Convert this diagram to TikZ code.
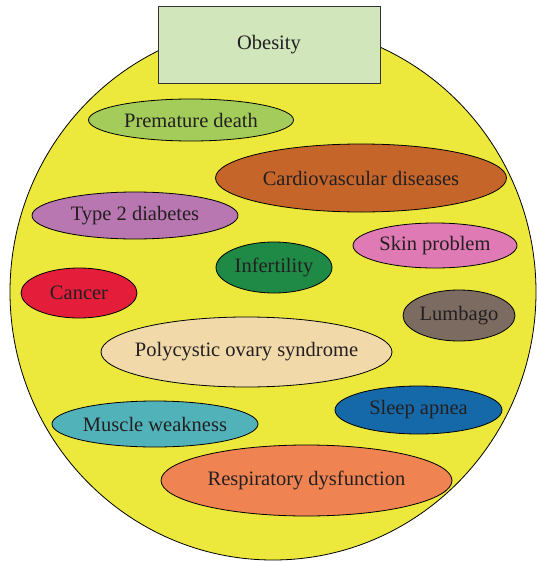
\documentclass[tikz,border=0pt]{standalone}
\usepackage{fontspec}
\setmainfont{Liberation Serif}
\usetikzlibrary{shapes.geometric}
\definecolor{bigyellow}{HTML}{ECE83C}
\definecolor{boxgreen}{HTML}{D1E6BB}
\definecolor{cPremature}{HTML}{A3CC5A}
\definecolor{cCardio}{HTML}{C5652A}
\definecolor{cDiab}{HTML}{B877B1}
\definecolor{cSkin}{HTML}{E07AB5}
\definecolor{cInfert}{HTML}{1E8A46}
\definecolor{cCancer}{HTML}{E41E3A}
\definecolor{cLumbago}{HTML}{7B6B61}
\definecolor{cPoly}{HTML}{F1D9AA}
\definecolor{cMuscle}{HTML}{52B2BA}
\definecolor{cSleep}{HTML}{1569A8}
\definecolor{cResp}{HTML}{EF8352}
\definecolor{txt}{HTML}{231F20}
\newcommand{\lbl}[1]{\makebox[0pt]{#1}}
\tikzset{
  disease/.style={ellipse, draw=black, line width=0.8pt, inner sep=0pt, text=txt,
    font=\fontsize{20.5}{24}\selectfont},
}
\begin{document}
\begin{tikzpicture}[x=1pt,y=-1pt]
\useasboundingbox (0,0) rectangle (536,562);
% big circle
\path[fill=bigyellow, draw=black, line width=0.8pt] (273,292) ellipse [x radius=263, y radius=268];
% title box
\node[draw=black!80, line width=1pt, fill=boxgreen, minimum width=222pt, minimum height=77pt,
  inner sep=0pt, text=txt, font=\fontsize{20.5}{24}\selectfont] (obesity) at (269,44.5) {Obesity};
% diseases
\node[disease, fill=cPremature, minimum width=205pt, minimum height=42pt] (premature) at (191,120) {\lbl{Premature death}};
\node[disease, fill=cCardio, minimum width=291pt, minimum height=68pt] (cardio) at (361,178) {\lbl{Cardiovascular diseases}};
\node[disease, fill=cDiab, minimum width=206pt, minimum height=47pt] (diab) at (135,215.5) {\lbl{Type 2 diabetes}};
\node[disease, fill=cSkin, minimum width=164pt, minimum height=45pt] (skin) at (435,245.5) {\lbl{Skin problem}};
\node[disease, fill=cInfert, minimum width=116pt, minimum height=51pt] (infert) at (274,267.5) {\lbl{Infertility}};
\node[disease, fill=cCancer, minimum width=116pt, minimum height=50pt] (cancer) at (79,293) {\lbl{Cancer}};
\node[disease, fill=cLumbago, minimum width=112pt, minimum height=51pt] (lumbago) at (459,315.5) {\lbl{Lumbago}};
\node[disease, fill=cPoly, minimum width=291pt, minimum height=70pt] (poly) at (246.5,352) {\lbl{Polycystic ovary syndrome}};
\node[disease, fill=cMuscle, minimum width=206pt, minimum height=46pt] (muscle) at (155,424) {\lbl{Muscle weakness}};
\node[disease, fill=cSleep, minimum width=167pt, minimum height=48pt] (sleep) at (418.5,410) {\lbl{Sleep apnea}};
\node[disease, fill=cResp, minimum width=291pt, minimum height=71pt] (resp) at (306.5,480.5) {\lbl{Respiratory dysfunction}};
\end{tikzpicture}
\end{document}
